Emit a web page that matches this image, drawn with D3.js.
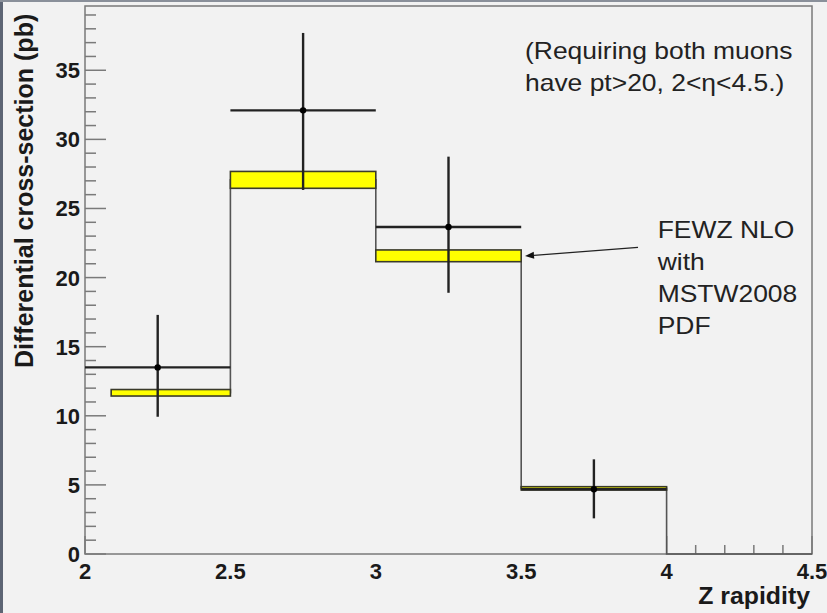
<!DOCTYPE html>
<html>
<head>
<meta charset="utf-8">
<script src="https://cdn.jsdelivr.net/npm/d3@7"></script>
<style>
  html, body { margin: 0; padding: 0; background: #f2f2f2; }
  svg { display: block; }
  text { font-family: "Liberation Sans", Arial, Helvetica, sans-serif; }
</style>
</head>
<body>
<svg id="chart" width="827" height="613"></svg>
<script>
// Theory prediction (FEWZ NLO, MSTW2008): bin edges and band limits
const thEdges = [2.09, 2.5, 3.0, 3.5, 4.0, 4.5];
const thLow   = [11.43, 26.46, 21.15, 4.63, 0];
const thHigh  = [11.90, 27.68, 22.00, 4.87, 0];

// Measured points: bin ranges, central values and error limits
const dataLo   = [2.0, 2.5, 3.0, 3.5];
const dataHi   = [2.5, 3.0, 3.5, 4.0];
const dataX    = [2.25, 2.75, 3.25, 3.75];
const dataY    = [13.5, 32.1, 23.66, 4.68];
const dataUp   = [17.3, 37.7, 28.75, 6.85];
const dataDown = [9.93, 26.34, 18.9, 2.58];

// Axis ticks
const xMajor = [2, 2.5, 3, 3.5, 4, 4.5];
const xMajorLabels = ["2", "2.5", "3", "3.5", "4", "4.5"];
const yMajor = [0, 5, 10, 15, 20, 25, 30, 35];

const svg = d3.select("#chart");
const W = 827, H = 613;
const pL = 85, pR = 812, pT = 6, pB = 554;
const bg = "#f2f2f2";

const x = d3.scaleLinear().domain([2, 4.5]).range([pL, pR]);
const y = d3.scaleLinear().domain([0, 39.65]).range([pB, pT]);

// window edge strips
svg.append("rect").attr("x", 0).attr("y", 0).attr("width", W).attr("height", H).attr("fill", bg);
svg.append("rect").attr("x", 0).attr("y", 0).attr("width", 3).attr("height", H).attr("fill", "#5d6574");
svg.append("rect").attr("x", 0).attr("y", 0).attr("width", W).attr("height", 2).attr("fill", "#8a909a");

const frameColor = "#7a7a7a";

// y axis: minor ticks every 1, major every 5
const yMinor = d3.range(0, 40, 1).filter(v => y(v) >= pT);
svg.append("g").selectAll("line").data(yMinor).join("line")
  .attr("x1", pL).attr("x2", v => pL + (v % 5 === 0 ? 21 : 11))
  .attr("y1", v => y(v)).attr("y2", v => y(v))
  .attr("stroke", frameColor).attr("stroke-width", 1.5);

svg.append("g").selectAll("text").data(yMajor).join("text")
  .attr("x", 80).attr("y", v => y(v) + 8)
  .attr("text-anchor", "end")
  .attr("font-size", 22).attr("font-weight", "bold").attr("fill", "#1a1a1a")
  .text(v => v);

// x axis: minor ticks every 0.1, major every 0.5
const xMinor = d3.range(20, 46, 1).map(v => v / 10);
svg.append("g").selectAll("line").data(xMinor).join("line")
  .attr("x1", v => x(v)).attr("x2", v => x(v))
  .attr("y1", pB).attr("y2", v => pB - (Math.round(v * 10) % 5 === 0 ? 18 : 9))
  .attr("stroke", frameColor).attr("stroke-width", 1.5);

svg.append("g").selectAll("text").data(xMajor).join("text")
  .attr("x", v => x(v)).attr("y", 579)
  .attr("text-anchor", "middle")
  .attr("font-size", 22).attr("font-weight", "bold").attr("fill", "#1a1a1a")
  .text((v, i) => xMajorLabels[i]);

// theory histogram: background-filled body (hides ticks beneath it)
const centres = thLow.map((lo, i) => (lo + thHigh[i]) / 2);
const stepPts = [];
centres.forEach((c, i) => {
  stepPts.push([x(thEdges[i]), y(c)]);
  stepPts.push([x(thEdges[i + 1]), y(c)]);
});
const bodyPts = [[x(thEdges[0]), y(0)], ...stepPts, [x(thEdges[thEdges.length - 1]), y(0)]];
svg.append("path")
  .attr("d", d3.line()(bodyPts) + "Z")
  .attr("fill", bg).attr("stroke", "none");

// frame
svg.append("rect").attr("x", pL).attr("y", pT)
  .attr("width", pR - pL).attr("height", pB - pT)
  .attr("fill", "none").attr("stroke", frameColor).attr("stroke-width", 1.5);

// theory step outline
svg.append("path")
  .attr("d", d3.line()(stepPts))
  .attr("fill", "none").attr("stroke", "#555").attr("stroke-width", 1.6);

// theory uncertainty bands
svg.append("g").selectAll("rect").data(thLow.map((lo, i) => i).filter(i => thHigh[i] > thLow[i])).join("rect")
  .attr("x", i => x(thEdges[i]))
  .attr("width", i => x(thEdges[i + 1]) - x(thEdges[i]))
  .attr("y", i => y(thHigh[i]))
  .attr("height", i => y(thLow[i]) - y(thHigh[i]))
  .attr("fill", "#ffff00").attr("stroke", "#3a3a2a").attr("stroke-width", 1.6);

// data points with error bars
const idx = dataY.map((d, i) => i);
const g = svg.append("g").attr("stroke", "#222").attr("stroke-width", 2.4);
g.selectAll("line.h").data(idx).join("line").attr("class", "h")
  .attr("x1", i => x(dataLo[i])).attr("x2", i => x(dataHi[i]))
  .attr("y1", i => y(dataY[i])).attr("y2", i => y(dataY[i]));
g.selectAll("line.v").data(idx).join("line").attr("class", "v")
  .attr("x1", i => x(dataX[i])).attr("x2", i => x(dataX[i]))
  .attr("y1", i => y(dataUp[i])).attr("y2", i => y(dataDown[i]));
svg.append("g").selectAll("circle").data(idx).join("circle")
  .attr("cx", i => x(dataX[i])).attr("cy", i => y(dataY[i]))
  .attr("r", 3.2).attr("fill", "#000");

// annotation arrow to the theory band
const ax0 = 638, ay0 = 247.3, ax1 = 525, ay1 = 256;
const ang = Math.atan2(ay1 - ay0, ax1 - ax0);
const hl = 9, hw = 3.5;
const bx = ax1 - hl * Math.cos(ang), by = ay1 - hl * Math.sin(ang);
svg.append("line")
  .attr("x1", ax0).attr("y1", ay0)
  .attr("x2", bx).attr("y2", by)
  .attr("stroke", "#222").attr("stroke-width", 1.3);
svg.append("path")
  .attr("d", `M${ax1},${ay1} L${bx - hw * Math.sin(ang)},${by + hw * Math.cos(ang)} L${bx + hw * Math.sin(ang)},${by - hw * Math.cos(ang)} Z`)
  .attr("fill", "#111");

// text annotations
function note(lines, x0, baselines) {
  lines.forEach((t, i) => {
    svg.append("text")
      .attr("transform", `translate(${x0},${baselines[i]}) scale(1.15,1)`)
      .attr("font-size", 23).attr("fill", "#222")
      .text(t);
  });
}
note(["(Requiring both muons", "have pt>20, 2<η<4.5.)"], 525, [59.3, 90.5]);
note(["FEWZ NLO", "with", "MSTW2008", "PDF"], 657.7, [237.7, 269.5, 301.7, 333.5]);

// axis titles
svg.append("text")
  .attr("text-anchor", "end")
  .attr("font-size", 23).attr("font-weight", "bold").attr("fill", "#1a1a1a")
  .attr("transform", "translate(810,604) scale(1.08,1)")
  .text("Z rapidity");

svg.append("text")
  .attr("transform", "translate(33,368) rotate(-90)")
  .attr("font-size", 25).attr("font-weight", "bold").attr("fill", "#1a1a1a")
  .text("Differential cross-section (pb)");
</script>
</body>
</html>
